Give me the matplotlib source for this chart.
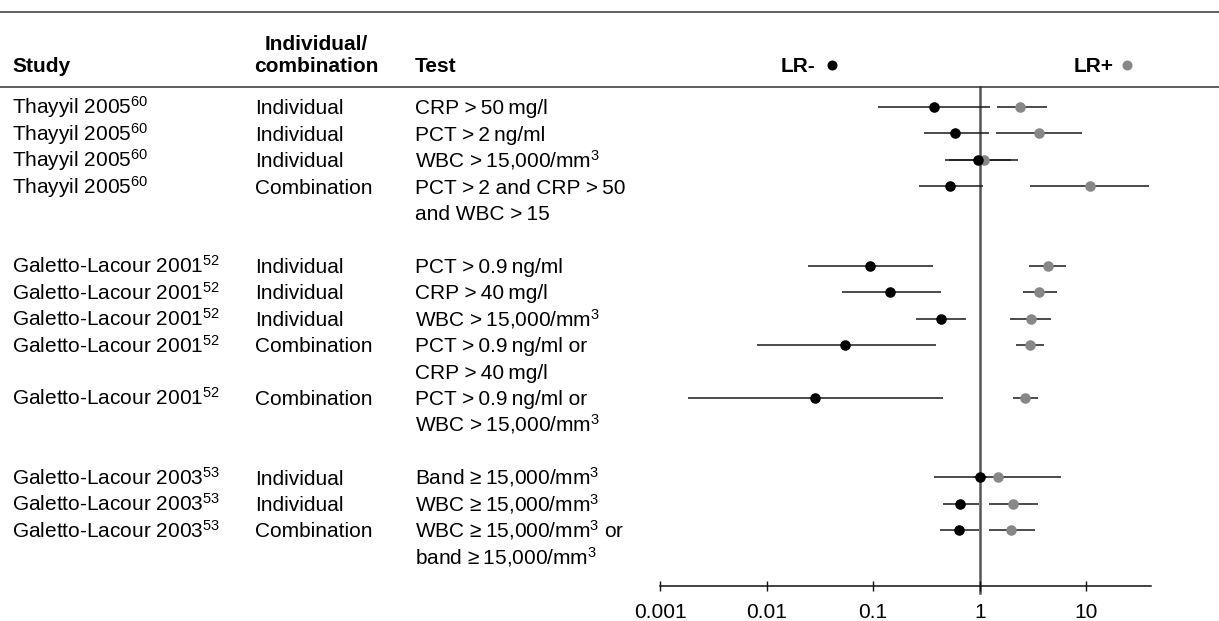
import matplotlib
matplotlib.use("Agg")
import matplotlib.pyplot as plt
from matplotlib.lines import Line2D
from matplotlib.transforms import blended_transform_factory

plt.rcParams['font.family'] = ['Liberation Sans', 'DejaVu Sans']
plt.rcParams['mathtext.fontset'] = 'custom'
plt.rcParams['mathtext.rm'] = 'Liberation Sans'
plt.rcParams['mathtext.bf'] = 'Liberation Sans:bold'
plt.rcParams['mathtext.default'] = 'rm'
plt.rcParams['font.size'] = 15

W, H = 1219, 621
TS = '\u2009'  # thin space used inside the test thresholds

# row index of each test (blank rows separate the three studies)
rows = [0, 1, 2, 3, 6, 7, 8, 9, 11, 14, 15, 16]
studies = ["Thayyil 2005"] * 4 + ["Galetto-Lacour 2001"] * 5 + ["Galetto-Lacour 2003"] * 3
refs = ["60"] * 4 + ["52"] * 5 + ["53"] * 3
kinds = ["Individual", "Individual", "Individual", "Combination",
         "Individual", "Individual", "Individual", "Combination", "Combination",
         "Individual", "Individual", "Combination"]
tests = [
    ["CRP >" + TS + "50" + TS + "mg/l"],
    ["PCT >" + TS + "2" + TS + "ng/ml"],
    ["WBC >" + TS + "15,000/mm$^3$"],
    ["PCT >" + TS + "2 and CRP >" + TS + "50", "and WBC >" + TS + "15"],
    ["PCT >" + TS + "0.9" + TS + "ng/ml"],
    ["CRP >" + TS + "40" + TS + "mg/l"],
    ["WBC >" + TS + "15,000/mm$^3$"],
    ["PCT >" + TS + "0.9" + TS + "ng/ml or", "CRP >" + TS + "40" + TS + "mg/l"],
    ["PCT >" + TS + "0.9" + TS + "ng/ml or", "WBC >" + TS + "15,000/mm$^3$"],
    ["Band \u2265" + TS + "15,000/mm$^3$"],
    ["WBC \u2265" + TS + "15,000/mm$^3$"],
    ["WBC \u2265" + TS + "15,000/mm$^3$ or", "band \u2265" + TS + "15,000/mm$^3$"],
]

# negative likelihood ratios with 95% CI
lr_neg = [0.37, 0.59, 0.96, 0.53, 0.093, 0.145, 0.43, 0.055, 0.0286, 1.0, 0.66, 0.64]
lr_neg_lo = [0.112, 0.30, 0.47, 0.27, 0.0244, 0.0506, 0.25, 0.0081, 0.00182, 0.376, 0.456, 0.42]
lr_neg_hi = [1.24, 1.23, 1.98, 1.08, 0.361, 0.431, 0.74, 0.385, 0.456, 1.16, 0.98, 0.98]

# positive likelihood ratios with 95% CI
lr_pos = [2.40, 3.64, 1.10, 10.9, 4.34, 3.64, 3.03, 2.95, 2.66, 1.47, 2.04, 1.98]
lr_pos_lo = [1.44, 1.42, 0.52, 2.95, 2.91, 2.54, 1.93, 2.21, 2.06, 0.89, 1.22, 1.22]
lr_pos_hi = [4.28, 9.2, 2.27, 39.0, 6.48, 5.35, 4.63, 4.01, 3.50, 5.84, 3.50, 3.28]

xticks = [0.001, 0.01, 0.1, 1, 10]
xticklabels = ["0.001", "0.01", "0.1", "1", "10"]

fig = plt.figure(figsize=(W / 100, H / 100), dpi=100)

# forest plot area: x from the 0.001 tick to the axis end, y from header rule to axis
pitch = 26.45
row0_y = 107
ax_left, ax_right, ax_top, ax_bottom = 660, 1151, 87, 586
ax = fig.add_axes([ax_left / W, 1 - ax_bottom / H,
                   (ax_right - ax_left) / W, (ax_bottom - ax_top) / H])
ax.set_xscale('log')
ax.set_xlim(0.001, 40.5)
ax.set_ylim((ax_bottom - row0_y) / pitch, (ax_top - row0_y) / pitch)

ax.axvline(1, ymin=-0.014, ymax=1, color='#555555', lw=1.8, zorder=1, clip_on=False)

err_kw = dict(fmt='o', ecolor='#1a1a1a', elinewidth=1.1, capsize=3.6, capthick=1.1,
              markersize=7.6, markeredgewidth=0, zorder=3)
ax.errorbar(lr_pos, rows,
            xerr=[[v - l for v, l in zip(lr_pos, lr_pos_lo)],
                  [h - v for v, h in zip(lr_pos, lr_pos_hi)]],
            color='#878787', **err_kw)
ax.errorbar(lr_neg, rows,
            xerr=[[v - l for v, l in zip(lr_neg, lr_neg_lo)],
                  [h - v for v, h in zip(lr_neg, lr_neg_hi)]],
            color='black', **err_kw)

for side in ['top', 'right', 'left']:
    ax.spines[side].set_visible(False)
ax.spines['bottom'].set_color('#111111')
ax.spines['bottom'].set_linewidth(1.1)
ax.set_yticks([])
ax.set_xticks(xticks)
ax.set_xticklabels(xticklabels)
ax.xaxis.set_minor_locator(matplotlib.ticker.NullLocator())
ax.tick_params(axis='x', direction='inout', length=6.5, width=1.0, color='#111111',
               pad=9, labelsize=15)

# table columns on the left, aligned to the plot rows
trans = blended_transform_factory(fig.transFigure, ax.transData)
base = 7.3 / pitch  # baseline offset from row centre
col_study, col_kind, col_test = 12, 255, 415
for r, st, rf, kd, lines in zip(rows, studies, refs, kinds, tests):
    ax.text(col_study / W, r + base, st + "$^{" + rf + "}$", transform=trans,
            va='baseline', ha='left', clip_on=False)
    ax.text(col_kind / W, r + base, kd, transform=trans,
            va='baseline', ha='left', clip_on=False)
    for j, line in enumerate(lines):
        ax.text(col_test / W, r + j + base, line, transform=trans,
                va='baseline', ha='left', clip_on=False)

# header
def fy(y):
    return 1 - y / H

fig.add_artist(Line2D([0, 1], [fy(12), fy(12)], color='#333333', lw=1.1))
fig.add_artist(Line2D([0, 1], [fy(87), fy(87)], color='#333333', lw=1.1))
hb = 72.5
fig.text(col_study / W, fy(hb), "Study", weight='bold', va='baseline', ha='left')
fig.text(316 / W, fy(hb - 22), "Individual/", weight='bold', va='baseline', ha='center')
fig.text(316 / W, fy(hb), "combination", weight='bold', va='baseline', ha='center')
fig.text(col_test / W, fy(hb), "Test", weight='bold', va='baseline', ha='left')
fig.text(815 / W, fy(hb), "LR-", weight='bold', va='baseline', ha='right')
fig.text(1114 / W, fy(hb), "LR+", weight='bold', va='baseline', ha='right')
fig.add_artist(Line2D([832 / W], [fy(65)], marker='o', color='black',
                      markersize=7.2, markeredgewidth=0))
fig.add_artist(Line2D([1127 / W], [fy(65)], marker='o', color='#878787',
                      markersize=7.2, markeredgewidth=0))

fig.savefig("out.png", dpi=100)
